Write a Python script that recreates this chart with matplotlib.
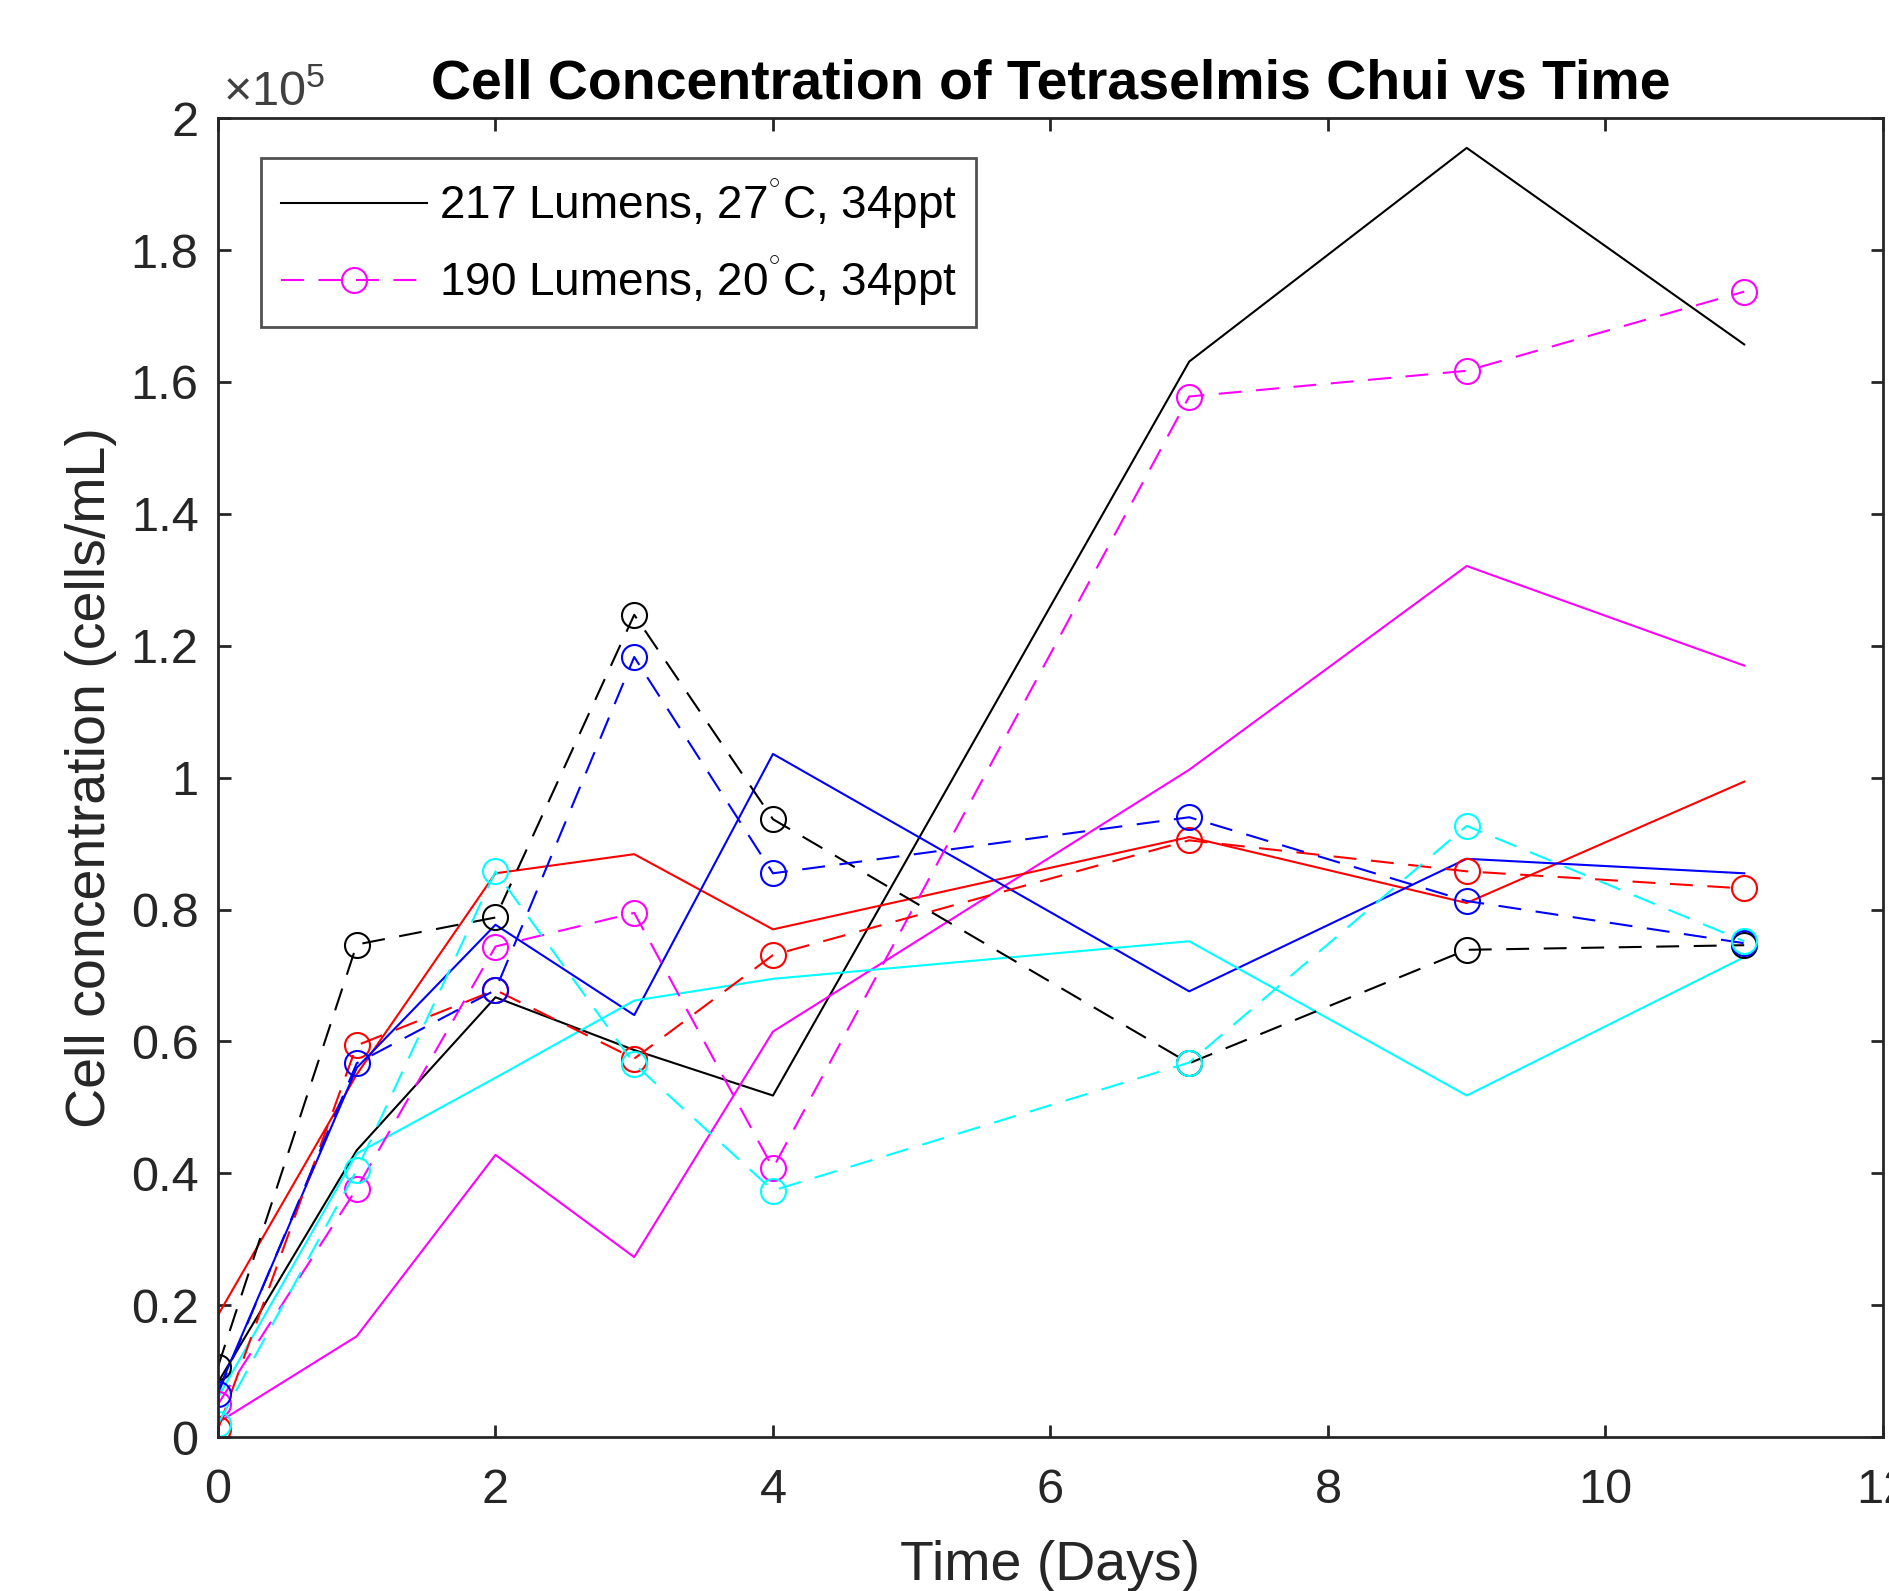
import matplotlib
matplotlib.use('Agg')
import matplotlib.pyplot as plt
from matplotlib.ticker import FuncFormatter, MultipleLocator

plt.rcParams['font.family'] = ['Liberation Sans', 'DejaVu Sans']
plt.rcParams['mathtext.fontset'] = 'custom'
plt.rcParams['mathtext.rm'] = 'Liberation Sans'
plt.rcParams['mathtext.it'] = 'Liberation Sans:italic'
plt.rcParams['mathtext.bf'] = 'Liberation Sans:bold'

# sampling days
days = [0, 1, 2, 3, 4, 7, 9, 11]

# cell concentration (cells/mL), solid = no marker, dashed = circle markers
black_solid = [8300, 43500, 66700, 58700, 51800, 163100, 195500, 165700]
black_dash = [10700, 74700, 78800, 124700, 93700, 56700, 73900, 74600]
magenta_solid = [2200, 15300, 42800, 27300, 61500, 101200, 132100, 117000]
magenta_dash = [5000, 37700, 74400, 79500, 40800, 157800, 161700, 173700]
red_solid = [18500, 55000, 85500, 88400, 77000, 91000, 81000, 99400]
red_dash = [1200, 59400, 67800, 57400, 73100, 90500, 85800, 83200]
blue_solid = [7000, 56000, 77700, 64000, 103600, 67600, 87700, 85500]
blue_dash = [6600, 56700, 67800, 118300, 85500, 94000, 81300, 74900]
cyan_solid = [6000, 43000, 54500, 66200, 69500, 75200, 51800, 72800]
cyan_dash = [2000, 40500, 85800, 56600, 37400, 56800, 92700, 75200]

legend_labels = ['217 Lumens, 27$^{^{\\circ}}$C, 34ppt',
                 '190 Lumens, 20$^{^{\\circ}}$C, 34ppt']

axis_col = '#262626'
lw = 1.5
dash = (11, 7)
ms = 18

fig = plt.figure(figsize=(18.89, 15.91), dpi=100)
ax = fig.add_axes([0.1154, 0.0967, 0.8814, 0.829])

h1, = ax.plot(days, black_solid, color='k', lw=lw)
ax.plot(days, magenta_solid, color='#ff00ff', lw=lw)
ax.plot(days, red_solid, color='#ff0000', lw=lw)
ax.plot(days, blue_solid, color='#0000ff', lw=lw)
ax.plot(days, cyan_solid, color='#00ffff', lw=lw)

ax.plot(days, black_dash, color='k', lw=lw, dashes=dash, marker='o',
        ms=ms, mfc='none', mew=1.5)
h2, = ax.plot(days, magenta_dash, color='#ff00ff', lw=lw, dashes=dash,
              marker='o', ms=ms, mfc='none', mew=1.5)
ax.plot(days, red_dash, color='#ff0000', lw=lw, dashes=dash, marker='o',
        ms=ms, mfc='none', mew=1.5)
ax.plot(days, blue_dash, color='#0000ff', lw=lw, dashes=dash, marker='o',
        ms=ms, mfc='none', mew=1.5)
ax.plot(days, cyan_dash, color='#00ffff', lw=lw, dashes=dash, marker='o',
        ms=ms, mfc='none', mew=1.5)

ax.set_xlim(0, 12)
ax.set_ylim(0, 200000)
ax.xaxis.set_major_locator(MultipleLocator(2))
ax.yaxis.set_major_locator(MultipleLocator(20000))
ax.yaxis.set_major_formatter(FuncFormatter(lambda v, p: '%g' % round(v / 1e5, 1)))

for s in ax.spines.values():
    s.set_linewidth(2)
    s.set_color(axis_col)
ax.tick_params(direction='in', top=True, right=True, length=9, width=2,
               colors=axis_col, labelsize=35)
ax.tick_params(axis='x', pad=22)
ax.tick_params(axis='y', pad=14)

ax.text(0.003, 1.002, '\u00d710$^{5}$', transform=ax.transAxes, ha='left',
        va='bottom', fontsize=35, color='#404040')

ax.set_title('Cell Concentration of Tetraselmis Chui vs Time', fontsize=40,
             fontweight='bold', pad=14)
ax.set_xlabel('Time (Days)', fontsize=40, color=axis_col, labelpad=20)
ax.set_ylabel('Cell concentration (cells/mL)', fontsize=40, color=axis_col,
              labelpad=10)

leg = ax.legend([h1, h2], legend_labels, loc='upper left',
                bbox_to_anchor=(0.026, 0.970), borderaxespad=0, fontsize=33,
                handlelength=3.2, frameon=True, fancybox=False,
                borderpad=0.42, labelspacing=0.5, handletextpad=0.25)
leg.get_frame().set_edgecolor(axis_col)
leg.get_frame().set_linewidth(2)

fig.savefig('out.png', dpi=100)
